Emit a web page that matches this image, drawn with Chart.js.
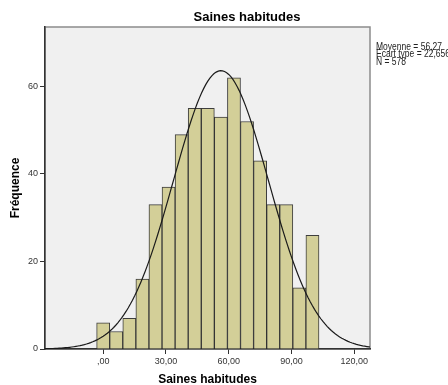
<!DOCTYPE html>
<html lang="fr">
<head>
  <meta charset="UTF-8" />
  <title>Saines habitudes</title>
  <script src="https://cdn.jsdelivr.net/npm/chart.js"></script>
  <style>
    html, body {
      margin: 0;
      padding: 0;
      background: #ffffff;
    }
    #wrap {
      position: relative;
      width: 448px;
      height: 385px;
    }
  </style>
</head>
<body>
  <div id="wrap">
    <canvas id="histo" width="448" height="385"></canvas>
  </div>

  <script>
    // centres des classes et effectifs
    const centresClasses = [0, 6.25, 12.5, 18.75, 25, 31.25, 37.5, 43.75, 50, 56.25, 62.5, 68.75, 75, 81.25, 87.5, 93.75, 100];
    const effectifs = [6, 4, 7, 16, 33, 37, 49, 55, 55, 53, 62, 52, 43, 33, 33, 14, 26];
    const ticksX = [0, 30, 60, 90, 120];
    const ticksY = [0, 20, 40, 60];

    // statistiques affichées
    const moyenne = 56.27;
    const ecartType = 22.656;
    const effectifTotal = 578;
    const largeurClasse = 6.25;

    const police = "'Liberation Sans', Arial, sans-serif";

    // courbe normale ajustée (moyenne / écart type / N)
    const courbe = [];
    for (let x = -30; x <= 130; x += 1) {
      const z = (x - moyenne) / ecartType;
      const y = effectifTotal * largeurClasse * Math.exp(-0.5 * z * z) / (ecartType * Math.sqrt(2 * Math.PI));
      courbe.push({ x: x, y: y });
    }

    const barres = centresClasses.map((c, i) => ({ x: c, y: effectifs[i] }));

    const fmt = v => (v === 0 ? ",00" : v.toFixed(2).replace(".", ","));

    const cadre = {
      id: "cadre",
      beforeDraw(chart) {
        const { ctx, chartArea: a } = chart;
        ctx.save();
        ctx.fillStyle = "#ffffff";
        ctx.fillRect(0, 0, chart.width, chart.height);
        ctx.fillStyle = "#f0f0f0";
        ctx.fillRect(a.left, a.top, a.right - a.left, a.bottom - a.top);
        ctx.strokeStyle = "#8c8c8c";
        ctx.lineWidth = 1.5;
        ctx.strokeRect(a.left, a.top, a.right - a.left, a.bottom - a.top);
        ctx.restore();
      },
      afterDraw(chart) {
        const { ctx, chartArea: a } = chart;
        ctx.save();
        ctx.fillStyle = "#000000";
        ctx.textAlign = "center";
        ctx.textBaseline = "middle";
        ctx.font = "bold 13px " + police;
        ctx.fillText("Saines habitudes", 247, 17);
        ctx.font = "bold 12px " + police;
        ctx.fillText("Saines habitudes", (a.left + a.right) / 2, 380);

        ctx.save();
        ctx.translate(16, (a.top + a.bottom) / 2);
        ctx.rotate(-Math.PI / 2);
        ctx.fillText("Fréquence", 0, 0);
        ctx.restore();

        // encadré des statistiques, police resserrée
        const lignes = [
          "Moyenne = " + moyenne.toFixed(2).replace(".", ","),
          "Ecart type = " + ecartType.toFixed(3).replace(".", ","),
          "N = " + effectifTotal
        ];
        ctx.font = "10px " + police;
        const serre = 74 / ctx.measureText(lignes[1]).width;
        ctx.textAlign = "left";
        ctx.fillStyle = "#222222";
        ctx.translate(376, 0);
        ctx.scale(serre, 1);
        lignes.forEach((t, i) => ctx.fillText(t, 0, 47 + i * 7.5));
        ctx.restore();
      }
    };

    new Chart(document.getElementById("histo"), {
      type: "bar",
      data: {
        datasets: [
          {
            type: "line",
            label: "Normale",
            data: courbe,
            borderColor: "#1a1a1a",
            borderWidth: 1.2,
            pointRadius: 0,
            fill: false,
            tension: 0,
            order: 0
          },
          {
            label: "Saines habitudes",
            data: barres,
            backgroundColor: "#d3cf98",
            borderColor: "rgba(30,30,30,0.85)",
            borderWidth: 1,
            barPercentage: 1,
            categoryPercentage: 1,
            order: 1
          }
        ]
      },
      options: {
        responsive: false,
        animation: false,
        layout: {
          padding: { left: 0, right: 78, top: 27, bottom: 0 }
        },
        plugins: {
          legend: { display: false },
          tooltip: { enabled: false }
        },
        scales: {
          x: {
            type: "linear",
            min: -27.8,
            max: 127.5,
            offset: false,
            afterBuildTicks: s => { s.ticks = ticksX.map(v => ({ value: v })); },
            afterFit: s => { s.height = 36; },
            ticks: {
              callback: v => fmt(v),
              font: { family: police, size: 9 },
              color: "#333333",
              padding: 2,
              maxRotation: 0
            },
            grid: {
              offset: false,
              drawOnChartArea: false,
              drawTicks: true,
              tickLength: 5,
              tickColor: "#333333"
            },
            border: { display: true, color: "#333333", width: 1.5 }
          },
          y: {
            min: 0,
            max: 73.6,
            afterBuildTicks: s => { s.ticks = ticksY.map(v => ({ value: v })); },
            afterFit: s => { s.width = 45; },
            ticks: {
              font: { family: police, size: 9 },
              color: "#333333",
              padding: 2
            },
            grid: {
              drawOnChartArea: false,
              drawTicks: true,
              tickLength: 5,
              tickColor: "#333333"
            },
            border: { display: true, color: "#333333", width: 1.5 }
          }
        }
      },
      plugins: [cadre]
    });
  </script>
</body>
</html>
